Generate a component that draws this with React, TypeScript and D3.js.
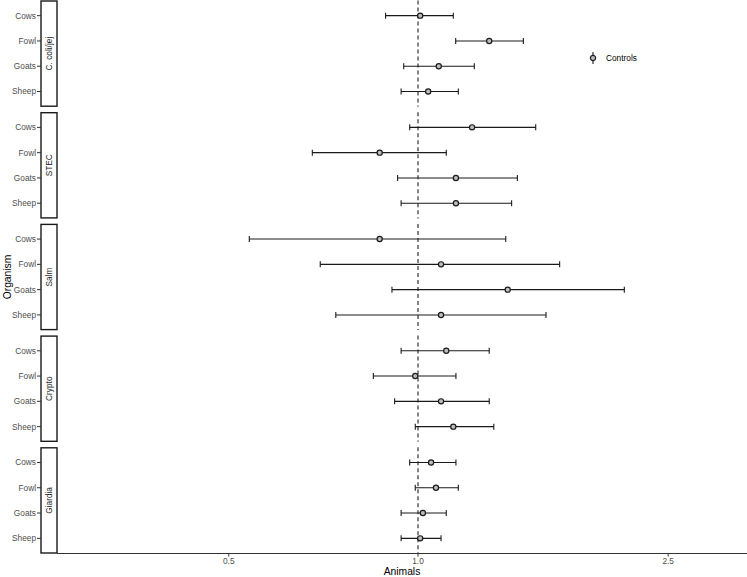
import React from 'react';
import * as d3 from 'd3';

// Data (odds ratio with 95% CI)
const organisms = ['C. coli/jej', 'STEC', 'Salm', 'Crypto', 'Giardia'];
const animals = ['Cows', 'Fowl', 'Goats', 'Sheep'];

const estimates = [
  [1.008, 1.298, 1.079, 1.038],
  [1.219, 0.869, 1.149, 1.149],
  [0.869, 1.088, 1.389, 1.088],
  [1.109, 0.99, 1.088, 1.138],
  [1.049, 1.068, 1.018, 1.008],
];
const lower = [
  [0.888, 1.148, 0.949, 0.94],
  [0.97, 0.679, 0.928, 0.94],
  [0.539, 0.699, 0.909, 0.74],
  [0.94, 0.849, 0.918, 0.99],
  [0.97, 0.99, 0.94, 0.94],
];
const upper = [
  [1.138, 1.471, 1.229, 1.159],
  [1.539, 1.109, 1.439, 1.409],
  [1.379, 1.68, 2.129, 1.598],
  [1.298, 1.149, 1.298, 1.32],
  [1.149, 1.159, 1.109, 1.088],
];
const xTicks = [0.5, 1.0, 2.5];

const W = 747;
const H = 577;
const panelLeft = 57;
const panelRight = 747;
const panelTop = 0.5;
const panelBottom = 553.5;
const gap = 5.5;
const stripW = 16;
const font = 'Liberation Sans, Arial, Helvetica, sans-serif';
const small = 8.3;
const title = 10.3;

export default function App() {
  const x = d3.scaleLog().domain([0.2665, 3.337]).range([panelLeft, panelRight]);
  const panelH = (panelBottom - panelTop - gap * (organisms.length - 1)) / organisms.length;
  const panelY = d3
    .scaleBand<string>()
    .domain(organisms)
    .range([panelTop, panelBottom])
    .paddingInner(gap / (panelH + gap));
  // ggplot-like discrete expansion of 0.6 on each side
  const rowY = d3.scaleLinear().domain([-0.6, animals.length - 1 + 0.6]).range([0, panelH]);

  return (
    <svg
      width={W}
      height={H}
      style={{ position: 'absolute', left: 0, top: 0, background: '#fff' }}
      fontFamily={font}
    >
      {organisms.map((org, oi) => {
        const top = panelY(org)!;
        return (
          <g key={org}>
            {/* strip */}
            <rect
              x={panelLeft - stripW}
              y={top + 0.5}
              width={stripW}
              height={panelH - 1}
              fill="#fff"
              stroke="#1a1a1a"
              strokeWidth={1.4}
            />
            <text
              transform={`translate(${panelLeft - stripW / 2 + 3},${top + panelH / 2}) rotate(-90)`}
              textAnchor="middle"
              fontSize={small}
              fill="#1a1a1a"
            >
              {org}
            </text>
            {/* reference line */}
            <line
              x1={x(1)}
              x2={x(1)}
              y1={top}
              y2={top + panelH}
              stroke="#333"
              strokeWidth={1.2}
              strokeDasharray="4,3"
            />
            {animals.map((a, ai) => {
              const y = top + rowY(ai);
              const x0 = x(lower[oi][ai]);
              const x1 = x(upper[oi][ai]);
              return (
                <g key={a}>
                  <line x1={panelLeft - stripW - 4} x2={panelLeft - stripW} y1={y} y2={y} stroke="#333" />
                  <text
                    x={panelLeft - stripW - 5}
                    y={y}
                    dy="0.35em"
                    textAnchor="end"
                    fontSize={small}
                    fill="#4d4d4d"
                  >
                    {a}
                  </text>
                  <line x1={x0} x2={x1} y1={y} y2={y} stroke="#1a1a1a" strokeWidth={1.1} />
                  <line x1={x0} x2={x0} y1={y - 3} y2={y + 3} stroke="#1a1a1a" strokeWidth={1.1} />
                  <line x1={x1} x2={x1} y1={y - 3} y2={y + 3} stroke="#1a1a1a" strokeWidth={1.1} />
                  <circle
                    cx={x(estimates[oi][ai])}
                    cy={y}
                    r={2.6}
                    fill="#bdbdbd"
                    stroke="#1a1a1a"
                    strokeWidth={1.2}
                  />
                </g>
              );
            })}
          </g>
        );
      })}

      {/* x axis */}
      <line x1={panelLeft} x2={panelRight} y1={panelBottom} y2={panelBottom} stroke="#333" strokeWidth={1.1} />
      {xTicks.map((t) => (
        <g key={t}>
          <line x1={x(t)} x2={x(t)} y1={panelBottom} y2={panelBottom + 3} stroke="#333" />
          <text x={x(t)} y={panelBottom + 10.5} textAnchor="middle" fontSize={small} fill="#4d4d4d">
            {t.toFixed(1)}
          </text>
        </g>
      ))}
      <text
        x={(panelLeft + panelRight) / 2}
        y={575}
        textAnchor="middle"
        fontSize={title}
        fill="#000"
      >
        Animals
      </text>
      <text
        transform={`translate(11,${(panelTop + panelBottom) / 2}) rotate(-90)`}
        textAnchor="middle"
        fontSize={title}
        fill="#000"
      >
        Organism
      </text>

      {/* legend */}
      <g transform="translate(593,58)">
        <line x1={0} x2={0} y1={-6} y2={6} stroke="#1a1a1a" strokeWidth={1.1} />
        <circle r={2.6} fill="#bdbdbd" stroke="#1a1a1a" strokeWidth={1.2} />
        <text x={13} dy="0.35em" fontSize={small} fill="#000">
          Controls
        </text>
      </g>
    </svg>
  );
}
